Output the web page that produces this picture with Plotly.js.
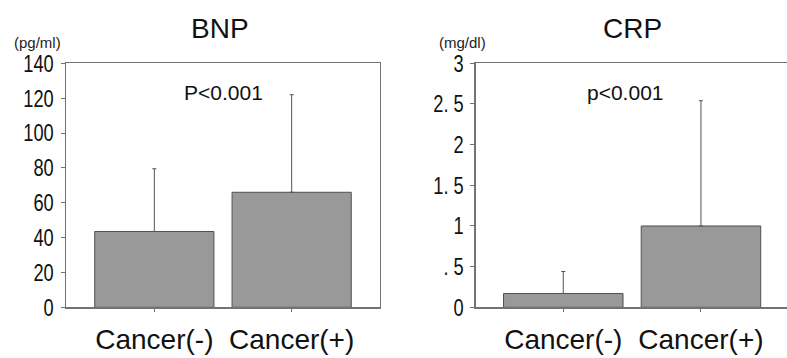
<!DOCTYPE html>
<html>
<head>
<meta charset="utf-8">
<script src="https://cdn.plot.ly/plotly-3.0.1.min.js"></script>
<style>html,body{margin:0;padding:0;background:#fff;}#chart{width:787px;height:358px;}</style>
</head>
<body>
<div id="chart"></div>
<script>
var categories = ['Cancer(-)', 'Cancer(+)'];
var bnpMean = [43.5, 66];
var bnpSD = [36, 56];
var crpMean = [0.17, 1.0];
var crpSD = [0.27, 1.54];
var bnpTicks = [0, 20, 40, 60, 80, 100, 120, 140];
var bnpTickText = ['0', '20', '40', '60', '80', '100', '120', '140'];
var crpTicks = [0, 0.5, 1, 1.5, 2, 2.5, 3];
var crpTickText = ['0', '. 5', '1', '1. 5', '2', '2. 5', '3'];

var sans = '"Liberation Sans", Arial, sans-serif';
var axisCol = '#737373';

function barTrace(y, sd, xa, ya) {
  return {
    type: 'bar', x: categories, y: y, xaxis: xa, yaxis: ya,
    width: 0.868,
    marker: {color: '#999999', line: {color: '#505050', width: 1}},
    error_y: {type: 'data', array: sd, arrayminus: [0, 0], symmetric: false,
              color: '#555555', thickness: 1, width: 2},
    hoverinfo: 'none', showlegend: false
  };
}

var data = [
  barTrace(bnpMean, bnpSD, 'x', 'y'),
  barTrace(crpMean, crpSD, 'x2', 'y2')
];

function xAxis(domain, range, anchor) {
  return {
    domain: domain, range: range, anchor: anchor, type: 'category',
    showline: true, linecolor: axisCol, linewidth: 1.5, mirror: true,
    ticks: 'outside', ticklen: 3, tickcolor: axisCol, tickwidth: 1,
    showgrid: false, zeroline: false, fixedrange: true,
    ticklabelstandoff: 4,
    tickfont: {family: sans, size: 28, color: '#111'}
  };
}
function yAxis(domain, range, anchor, vals, text, mirror) {
  return {
    domain: domain, range: range, anchor: anchor,
    tickvals: vals, ticktext: text,
    showline: true, linecolor: axisCol, linewidth: 1.5, mirror: mirror,
    ticks: 'outside', ticklen: 4, tickcolor: axisCol, tickwidth: 1,
    showgrid: false, zeroline: false, fixedrange: true,
    ticklabelstandoff: 2,
    tickfont: {family: sans, size: 24, color: '#111'}
  };
}

var yDom = [0.1416, 0.8232];
var layout = {
  width: 787, height: 358,
  margin: {l: 0, r: 0, t: 0, b: 0},
  paper_bgcolor: '#fff', plot_bgcolor: '#fff',
  showlegend: false,
  xaxis: xAxis([0.0839, 0.4828], [-0.643, 1.643], 'y'),
  yaxis: yAxis(yDom, [0, 140], 'x', bnpTicks, bnpTickText, true),
  xaxis2: xAxis([0.6048, 1], [-0.634, 1.625], 'y2'),
  yaxis2: yAxis(yDom, [0, 3], 'x2', crpTicks, crpTickText, false),
  annotations: [
    {text: 'BNP', xref: 'paper', yref: 'paper', x: 220 / 787, y: 1 - 28 / 358,
     showarrow: false, xanchor: 'center', yanchor: 'middle',
     font: {family: sans, size: 28, color: '#111'}},
    {text: 'CRP', xref: 'paper', yref: 'paper', x: 632 / 787, y: 1 - 28 / 358,
     showarrow: false, xanchor: 'center', yanchor: 'middle',
     font: {family: sans, size: 28, color: '#111'}},
    {text: 'P<0.001', xref: 'paper', yref: 'paper', x: 223 / 787, y: 1 - 93 / 358,
     showarrow: false, xanchor: 'center', yanchor: 'middle',
     font: {family: sans, size: 21, color: '#111'}},
    {text: 'p<0.001', xref: 'paper', yref: 'paper', x: 625 / 787, y: 1 - 93 / 358,
     showarrow: false, xanchor: 'center', yanchor: 'middle',
     font: {family: sans, size: 21, color: '#111'}},
    {text: '(pg/ml)', xref: 'paper', yref: 'paper', x: 37 / 787, y: 1 - 43 / 358,
     showarrow: false, xanchor: 'center', yanchor: 'middle',
     font: {family: sans, size: 15, color: '#222'}},
    {text: '(mg/dl)', xref: 'paper', yref: 'paper', x: 462 / 787, y: 1 - 43 / 358,
     showarrow: false, xanchor: 'center', yanchor: 'middle',
     font: {family: sans, size: 15, color: '#222'}}
  ]
};

function condense(selector, factor) {
  document.querySelectorAll(selector).forEach(function (t) {
    var len = t.getComputedTextLength();
    if (len > 0) {
      t.setAttribute('textLength', (len * factor).toFixed(2));
      t.setAttribute('lengthAdjust', 'spacingAndGlyphs');
    }
  });
}

Plotly.newPlot('chart', data, layout, {staticPlot: true, displayModeBar: false}).then(function () {
  condense('#chart .ytick text, #chart .y2tick text', 0.76);
});
</script>
</body>
</html>
